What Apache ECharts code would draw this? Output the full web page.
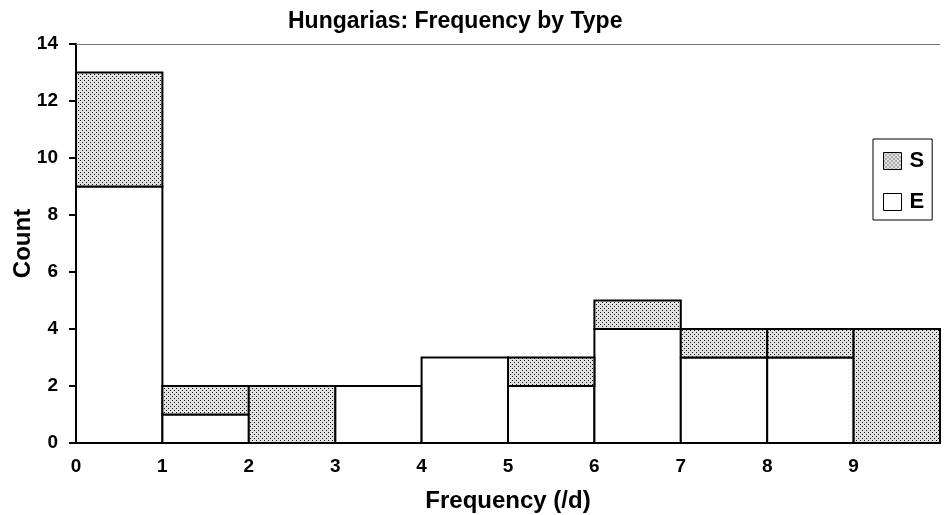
<!DOCTYPE html>
<html>
<head>
<meta charset="utf-8">
<script src="https://cdn.jsdelivr.net/npm/echarts@6/dist/echarts.min.js"></script>
<style>html,body{margin:0;padding:0;background:#fff}#c{width:946px;height:515px}</style>
</head>
<body>
<div id="c"></div>
<script>
const binStarts = [0, 1, 2, 3, 4, 5, 6, 7, 8, 9];
const binWidth = 1;
const valuesE = [9, 1, 0, 2, 3, 2, 4, 3, 3, 0];
const valuesS = [4, 1, 2, 0, 0, 1, 1, 1, 1, 4];
const xTicks = ['0','1','2','3','4','5','6','7','8','9'];
const titleText = 'Hungarias: Frequency by Type';
const FONT = '"Liberation Sans", Arial, Helvetica, sans-serif';

// dotted pattern
const pc = document.createElement('canvas');
pc.width = 4; pc.height = 4;
const pctx = pc.getContext('2d');
pctx.fillStyle = '#e2e2e2'; pctx.fillRect(0,0,4,4);
pctx.fillStyle = '#111111';
pctx.fillRect(0,0,1,1); pctx.fillRect(2,2,1,1);
const dotted = {image: pc, repeat: 'repeat'};

const dataE = [], dataS = [];
binStarts.forEach((b, i) => {
  if (valuesE[i] > 0) dataE.push([b, b + binWidth, 0, valuesE[i]]);
  if (valuesS[i] > 0) dataS.push([b, b + binWidth, valuesE[i], valuesE[i] + valuesS[i]]);
});

function rectRender(fill) {
  return function (params, api) {
    const p0 = api.coord([api.value(0), api.value(2)]);
    const p1 = api.coord([api.value(1), api.value(3)]);
    return {
      type: 'rect',
      shape: {x: p0[0], y: p1[1], width: p1[0] - p0[0], height: p0[1] - p1[1]},
      style: {fill: fill, stroke: '#000', lineWidth: 2}
    };
  };
}

const chart = echarts.init(document.getElementById('c'), null, {renderer: 'canvas'});
chart.setOption({
  animation: false,
  backgroundColor: '#fff',
  title: {
    text: titleText, left: 283, top: 5,
    textStyle: {fontFamily: FONT, fontWeight: 'bold', fontSize: 23, color: '#000'}
  },
  legend: {
    orient: 'vertical', left: 873, top: 139,
    padding: [11, 8, 7, 10],
    borderColor: '#000', borderWidth: 1,
    itemWidth: 18, itemHeight: 17, itemGap: 19,
    icon: 'rect',
    textStyle: {fontFamily: FONT, fontWeight: 'bold', fontSize: 22, color: '#000', padding: [0,0,0,3]},
    data: [
      {name: 'S', itemStyle: {color: dotted, borderColor: '#000', borderWidth: 1}},
      {name: 'E', itemStyle: {color: '#fff', borderColor: '#000', borderWidth: 1}}
    ]
  },
  grid: {left: 76, top: 44, right: 6, bottom: 72, containLabel: false, outerBoundsMode: 'none'},
  xAxis: [{
    type: 'value', min: 0, max: 10, interval: 1,
    name: 'Frequency (/d)', nameLocation: 'middle', nameGap: 46, nameMoveOverlap: false,
    nameTextStyle: {fontFamily: FONT, fontWeight: 'bold', fontSize: 24, color: '#000'},
    axisLine: {show: true, lineStyle: {color: '#000', width: 2}},
    axisTick: {show: false},
    splitLine: {show: false},
    axisLabel: {
      margin: 14, color: '#000', fontFamily: FONT, fontWeight: 'bold', fontSize: 19,
      formatter: function (v) { const i = xTicks.indexOf(String(v)); return i >= 0 ? xTicks[i] : ''; }
    }
  }, {
    type: 'value', position: 'top', min: 0, max: 10,
    axisLine: {show: true, lineStyle: {color: '#777', width: 1}},
    axisTick: {show: false}, axisLabel: {show: false}, splitLine: {show: false}
  }],
  yAxis: {
    type: 'value', min: 0, max: 14, interval: 2,
    name: 'Count', nameLocation: 'middle', nameGap: 41, nameMoveOverlap: false,
    nameTextStyle: {fontFamily: FONT, fontWeight: 'bold', fontSize: 24, color: '#000'},
    axisLine: {show: true, lineStyle: {color: '#000', width: 2}},
    axisTick: {show: true, inside: false, length: 7, lineStyle: {color: '#000', width: 2}},
    splitLine: {show: false},
    axisLabel: {margin: 18, color: '#000', fontFamily: FONT, fontWeight: 'bold', fontSize: 19}
  },
  series: [
    {name: 'E', type: 'custom', renderItem: rectRender('#fff'), itemStyle: {color: '#fff', borderColor: '#000'},
     encode: {x: [0, 1], y: [2, 3]}, data: dataE, z: 2},
    {name: 'S', type: 'custom', renderItem: rectRender(dotted), itemStyle: {color: dotted, borderColor: '#000'},
     encode: {x: [0, 1], y: [2, 3]}, data: dataS, z: 2}
  ]
});
</script>
</body>
</html>
